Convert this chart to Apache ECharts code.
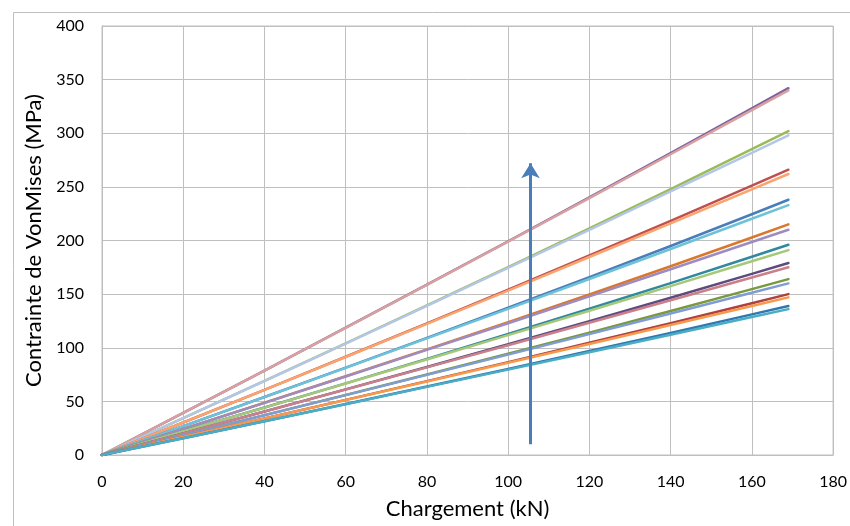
<!DOCTYPE html>
<html>
<head>
<meta charset="utf-8">
<script src="https://cdn.jsdelivr.net/npm/echarts@6/dist/echarts.min.js"></script>
<style>html,body{margin:0;padding:0;background:#fff}#c{width:850px;height:526px}</style>
</head>
<body>
<div id="c"></div>
<script>
const loadKN = [0, 20, 40, 60, 80, 100, 120, 140, 160, 169];
// pairs: upper (darker) line then lower (lighter) line
const s1a = [0, 39.3, 78.7, 118.7, 158.9, 199.3, 240.2, 281.5, 323.2, 342];
const s1b = [0, 39.3, 78.7, 118.6, 158.7, 198.9, 239.5, 280.4, 321.5, 340];
const s2a = [0, 34.4, 69.1, 104.1, 139.5, 175.2, 211.3, 248.0, 285.2, 302];
const s2b = [0, 34.4, 69.0, 103.9, 139.1, 174.4, 209.9, 245.7, 281.8, 298];
const s3a = [0, 30.3, 60.8, 91.6, 122.7, 154.1, 186.0, 218.3, 251.1, 266];
const s3b = [0, 30.3, 60.7, 91.4, 122.3, 153.3, 184.6, 216.0, 247.7, 262];
const s4a = [0, 26.9, 54.1, 81.5, 109.2, 137.3, 165.9, 194.9, 224.5, 238];
const s4b = [0, 26.9, 54.0, 81.3, 108.7, 136.3, 164.1, 192.1, 220.3, 233];
const s5a = [0, 24.3, 48.7, 73.4, 98.5, 123.9, 149.7, 176.0, 202.8, 215];
const s5b = [0, 24.3, 48.6, 73.2, 98.0, 122.9, 147.9, 173.2, 198.6, 210];
const s6a = [0, 22.1, 44.3, 66.8, 89.6, 112.8, 136.3, 160.3, 184.8, 196];
const s6b = [0, 22.1, 44.2, 66.6, 89.1, 111.8, 134.5, 157.5, 180.6, 191];
const s7a = [0, 20.2, 40.6, 61.2, 82.1, 103.2, 124.7, 146.6, 168.9, 179];
const s7b = [0, 20.2, 40.5, 61.0, 81.7, 102.4, 123.3, 144.3, 165.5, 175];
const s8a = [0, 18.5, 37.2, 56.0, 75.1, 94.4, 114.1, 134.2, 154.7, 164];
const s8b = [0, 18.5, 37.1, 55.8, 74.7, 93.6, 112.7, 131.9, 151.3, 160];
const s9a = [0, 17.0, 34.0, 51.4, 68.9, 86.6, 104.6, 122.9, 141.5, 150];
const s9b = [0, 17.0, 34.0, 51.3, 68.6, 86.0, 103.5, 121.2, 139.0, 147];
const s10a = [0, 15.7, 31.5, 47.5, 63.8, 80.2, 96.9, 113.8, 131.1, 139];
const s10b = [0, 15.7, 31.5, 47.4, 63.5, 79.6, 95.8, 112.1, 128.6, 136];

const xTicks = [0, 20, 40, 60, 80, 100, 120, 140, 160, 180];
const yTicks = [0, 50, 100, 150, 200, 250, 300, 350, 400];
const arrowX = 105.5, arrowFrom = 10, arrowTo = 272;

const seriesList = [
  [s1a, '#7E62A0'], [s1b, '#D9A0A0'],
  [s2a, '#9BBB59'], [s2b, '#B3C6E6'],
  [s3a, '#C0504D'], [s3b, '#F9A46F'],
  [s4a, '#4A7EBB'], [s4b, '#6EC2D8'],
  [s5a, '#D9782D'], [s5b, '#9D8CC2'],
  [s6a, '#31899F'], [s6b, '#A6C878'],
  [s7a, '#5E4A7D'], [s7b, '#C9808A'],
  [s8a, '#78993E'], [s8b, '#7F9CD5'],
  [s9a, '#B0413E'], [s9b, '#F59A4C'],
  [s10a, '#2F78B0'], [s10b, '#4BACC6']
];

const font = 'Lato, "Liberation Sans", sans-serif';
const series = seriesList.map(([vals, col]) => ({
  type: 'line',
  data: loadKN.map((x, i) => [x, vals[i]]),
  showSymbol: false,
  smooth: false,
  lineStyle: { color: col, width: 2.5, join: 'round', cap: 'round' },
  itemStyle: { color: col },
  silent: true
}));
series.push({
  type: 'line',
  data: [],
  silent: true,
  markLine: {
    silent: true,
    symbol: ['none', 'arrow'],
    symbolSize: [14, 15],
    label: { show: false },
    lineStyle: { color: '#4A7EBB', width: 3, type: 'solid' },
    data: [[{ coord: [arrowX, arrowFrom] }, { coord: [arrowX, arrowTo] }]]
  }
});

const chart = echarts.init(document.getElementById('c'), null, { renderer: 'canvas' });
chart.setOption({
  animation: false,
  backgroundColor: '#fff',
  graphic: [{
    type: 'rect', left: 11, top: 10, silent: true,
    shape: { width: 900, height: 600 },
    style: { fill: 'none', stroke: '#BFBFBF', lineWidth: 1 }
  }],
  grid: { left: 102, right: 13, top: 26, bottom: 71, show: true, borderColor: '#BFBFBF', borderWidth: 1 },
  xAxis: {
    type: 'value', min: 0, max: 180, interval: 20,
    name: 'Chargement (kN)', nameLocation: 'middle', nameGap: 43,
    nameTextStyle: { fontFamily: font, fontSize: 22, color: '#000' },
    axisLine: { show: true, lineStyle: { color: '#BFBFBF' } },
    axisTick: { show: false },
    axisLabel: { fontFamily: font, fontSize: 16, color: '#000', margin: 19 },
    splitLine: { show: true, lineStyle: { color: '#BFBFBF', width: 1 } }
  },
  yAxis: {
    type: 'value', min: 0, max: 400, interval: 50,
    name: 'Contrainte de VonMises (MPa)', nameLocation: 'middle', nameGap: 50,
    nameTextStyle: { fontFamily: font, fontSize: 22, color: '#000' },
    axisLine: { show: true, lineStyle: { color: '#BFBFBF' } },
    axisTick: { show: false },
    axisLabel: { fontFamily: font, fontSize: 16, color: '#000', margin: 18 },
    splitLine: { show: true, lineStyle: { color: '#BFBFBF', width: 1 } }
  },
  series: series
});
</script>
</body>
</html>
